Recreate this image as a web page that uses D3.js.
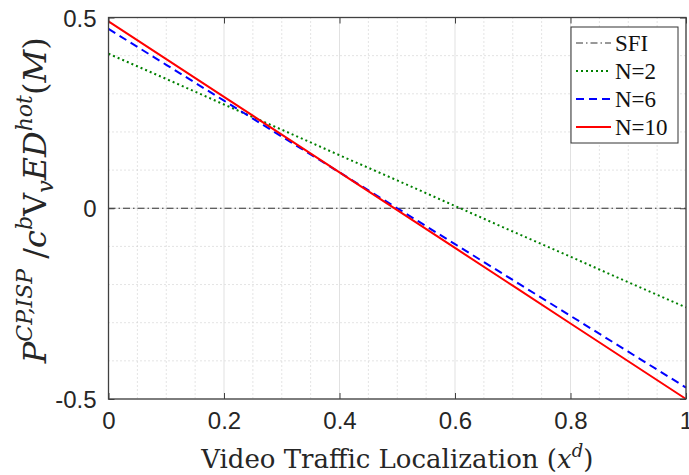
<!DOCTYPE html>
<html>
<head>
<meta charset="utf-8">
<script src="https://cdn.jsdelivr.net/npm/d3@7"></script>
<style>
  body { margin: 0; background: #fff; }
</style>
</head>
<body>
<div id="chart"></div>
<script>
// 数据：横轴取值与各条曲线
const xValues = [0, 0.1, 0.2, 0.3, 0.4, 0.5, 0.6, 0.7, 0.8, 0.9, 1];
const sfi = [0, 0, 0, 0, 0, 0, 0, 0, 0, 0, 0];
const n2 = [0.405, 0.339, 0.272, 0.206, 0.139, 0.073, 0.006, -0.061, -0.127, -0.194, -0.26];
const n6 = [0.47, 0.376, 0.282, 0.188, 0.094, 0.0, -0.094, -0.188, -0.282, -0.376, -0.47];
const n10 = [0.49, 0.391, 0.292, 0.193, 0.094, -0.005, -0.104, -0.203, -0.302, -0.401, -0.5];
const xTicks = [0, 0.2, 0.4, 0.6, 0.8, 1];
const yTicks = [-0.5, 0, 0.5];
const seriesNames = ["SFI", "N=2", "N=6", "N=10"];

const W = 689, H = 475;
const margin = { top: 17.5, right: 3, bottom: 76, left: 108.5 };
const width = W - margin.left - margin.right;
const height = H - margin.top - margin.bottom;

const svg = d3.select("#chart")
    .append("svg")
    .attr("width", W)
    .attr("height", H);

const g = svg.append("g")
    .attr("transform", `translate(${margin.left},${margin.top})`);

const x = d3.scaleLinear().domain([0, 1]).range([0, width]);
const y = d3.scaleLinear().domain([-0.5, 0.5]).range([height, 0]);

// 次网格（点线）
const minorX = d3.range(0, 1.0001, 0.05).filter(v => Math.abs(v * 5 - Math.round(v * 5)) > 1e-6);
const minorY = d3.range(-0.5, 0.5001, 0.1).filter(v => Math.abs(v * 2 - Math.round(v * 2)) > 1e-6);

g.selectAll(".minor-x")
    .data(minorX)
    .enter()
    .append("line")
    .attr("x1", d => x(d)).attr("x2", d => x(d))
    .attr("y1", 0).attr("y2", height)
    .attr("stroke", "#c8c8c8")
    .attr("stroke-width", 1)
    .attr("stroke-dasharray", "1,3");

g.selectAll(".minor-y")
    .data(minorY)
    .enter()
    .append("line")
    .attr("x1", 0).attr("x2", width)
    .attr("y1", d => y(d)).attr("y2", d => y(d))
    .attr("stroke", "#c8c8c8")
    .attr("stroke-width", 1)
    .attr("stroke-dasharray", "1,3");

// 主网格
g.selectAll(".major-x")
    .data(xTicks)
    .enter()
    .append("line")
    .attr("x1", d => x(d)).attr("x2", d => x(d))
    .attr("y1", 0).attr("y2", height)
    .attr("stroke", "#e1e1e1")
    .attr("stroke-width", 1);

g.selectAll(".major-y")
    .data(yTicks)
    .enter()
    .append("line")
    .attr("x1", 0).attr("x2", width)
    .attr("y1", d => y(d)).attr("y2", d => y(d))
    .attr("stroke", "#e1e1e1")
    .attr("stroke-width", 1);

// 曲线
const line = d3.line()
    .x((d, i) => x(xValues[i]))
    .y(d => y(d));

const styles = [
    { data: sfi, color: "#333333", w: 1, dash: "7,3,1.5,3" },
    { data: n2, color: "#008000", w: 2, dash: "2,3" },
    { data: n6, color: "#0000ff", w: 2, dash: "8,5" },
    { data: n10, color: "#ff0000", w: 2, dash: null }
];

styles.forEach(s => {
    g.append("path")
        .datum(s.data)
        .attr("fill", "none")
        .attr("stroke", s.color)
        .attr("stroke-width", s.w)
        .attr("stroke-dasharray", s.dash)
        .attr("d", line);
});

// 坐标轴（刻度朝内）
const axisColor = "#404040";
const tickFont = "'Liberation Sans', Arial, sans-serif";
const fmt = d => String(d); // 使用普通连字符 "-0.5"

const xAxis = g.append("g")
    .attr("transform", `translate(0,${height})`)
    .call(d3.axisBottom(x).tickValues(xTicks).tickFormat(fmt).tickSizeInner(-6).tickSizeOuter(0).tickPadding(13));

const yAxis = g.append("g")
    .call(d3.axisLeft(y).tickValues(yTicks).tickFormat(fmt).tickSizeInner(-6).tickSizeOuter(0).tickPadding(12));

const xTop = g.append("g")
    .call(d3.axisTop(x).tickValues(xTicks).tickFormat("").tickSizeInner(-6).tickSizeOuter(0));

const yRight = g.append("g")
    .attr("transform", `translate(${width},0)`)
    .call(d3.axisRight(y).tickValues(yTicks).tickFormat("").tickSizeInner(-6).tickSizeOuter(0));

[xAxis, yAxis, xTop, yRight].forEach(a => {
    a.select(".domain").remove();
    a.selectAll("line").attr("stroke", axisColor).attr("stroke-width", 1);
    a.selectAll("text")
        .attr("fill", "#262626")
        .style("font-family", tickFont)
        .style("font-size", "24px");
});
yAxis.selectAll("text").attr("dy", "0.36em");

// 外框
g.append("rect")
    .attr("width", width)
    .attr("height", height)
    .attr("fill", "none")
    .attr("stroke", axisColor)
    .attr("stroke-width", 1.3);

// X 轴标题
const serif = "'DejaVu Serif', 'Liberation Serif', serif";
const xTitle = svg.append("text")
    .attr("x", margin.left + width / 2)
    .attr("y", 468)
    .attr("text-anchor", "middle")
    .attr("fill", "#262626")
    .style("font-family", serif)
    .style("font-size", "26px");
xTitle.append("tspan").text("Video Traffic Localization (");
xTitle.append("tspan").style("font-style", "italic").text("x");
xTitle.append("tspan").attr("dy", -11).style("font-size", "18px").style("font-style", "italic").text("d");
xTitle.append("tspan").attr("dy", 11).text(")");

// Y 轴标题
const yTitle = svg.append("text")
    .attr("transform", `translate(46,${margin.top + height / 2 - 8}) rotate(-90)`)
    .attr("text-anchor", "middle")
    .attr("fill", "#262626")
    .style("font-family", serif)
    .style("font-size", "32px");
const parts = [
    { t: "P", it: true },
    { t: "CP,ISP", it: true, sup: true },
    { t: " /", it: false },
    { t: "c", it: true },
    { t: "b", it: true, sup: true },
    { t: "V", it: false },
    { t: "v", it: true, sub: true },
    { t: "ED", it: true },
    { t: "hot", it: true, sup: true },
    { t: "(", it: false },
    { t: "M", it: true },
    { t: ")", it: false }
];
let shift = 0;
parts.forEach(p => {
    const target = p.sup ? -14 : (p.sub ? 7 : 0);
    yTitle.append("tspan")
        .attr("dy", target - shift)
        .style("font-style", p.it ? "italic" : "normal")
        .style("font-size", (p.sup || p.sub) ? "22px" : "32px")
        .text(p.t);
    shift = target;
});

// 图例
const legend = svg.append("g")
    .attr("transform", "translate(571,27)");

legend.append("rect")
    .attr("width", 107)
    .attr("height", 116)
    .attr("fill", "#fff")
    .attr("stroke", "#333")
    .attr("stroke-width", 1);

styles.forEach((s, i) => {
    const item = legend.append("g")
        .attr("transform", `translate(0,${16 + i * 28})`);
    item.append("line")
        .attr("x1", 5).attr("x2", 40)
        .attr("y1", 0).attr("y2", 0)
        .attr("stroke", s.color)
        .attr("stroke-width", s.w)
        .attr("stroke-dasharray", s.dash);
    item.append("text")
        .attr("x", 44)
        .attr("y", 0)
        .attr("dy", "0.35em")
        .attr("fill", "#111")
        .style("font-family", "'Liberation Serif', serif")
        .style("font-size", "23px")
        .text(seriesNames[i]);
});
</script>
</body>
</html>
